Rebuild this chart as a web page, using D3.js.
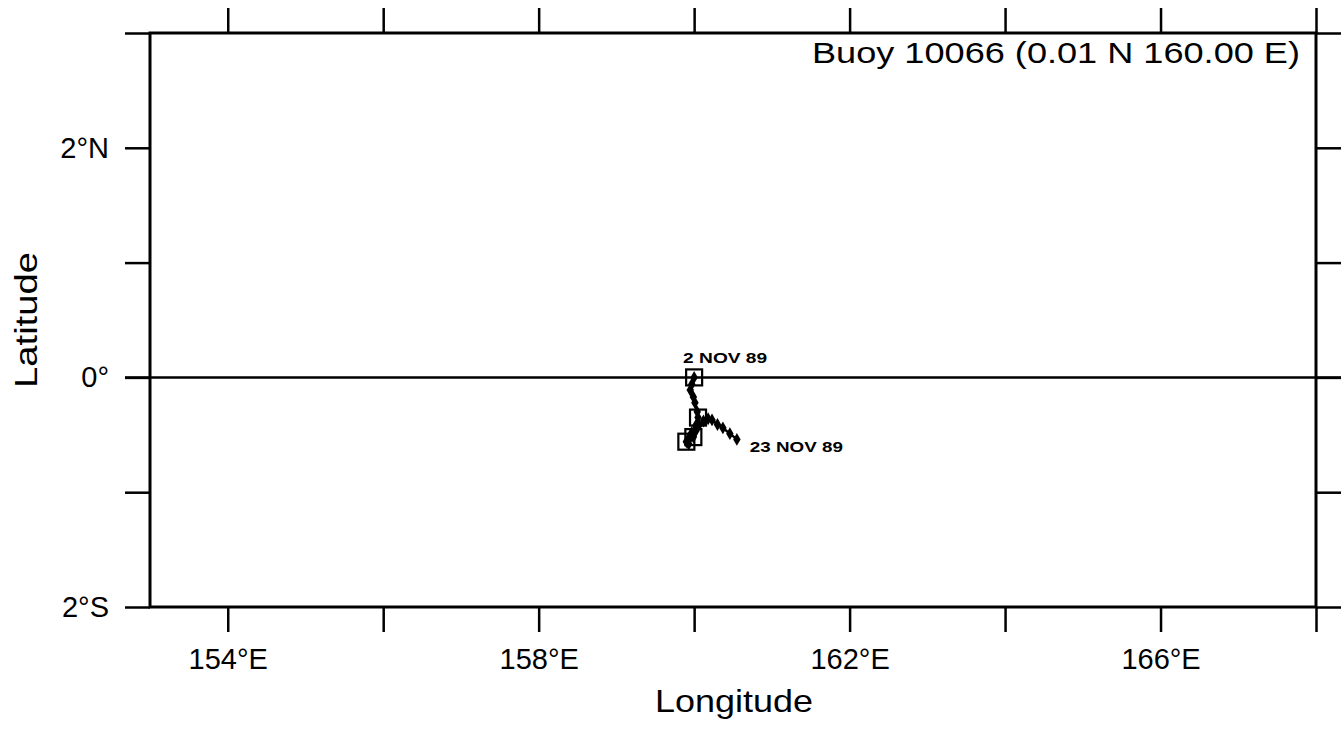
<!DOCTYPE html>
<html>
<head>
<meta charset="utf-8">
<script src="https://cdn.jsdelivr.net/npm/d3@7"></script>
<style>
html,body{margin:0;padding:0;background:#fff;}
svg text{font-family:"Liberation Sans",Arial,sans-serif;fill:#000;}
</style>
</head>
<body>
<svg id="chart" width="1344" height="729"></svg>
<script>
// ---- data ----
const title = "Buoy 10066 (0.01 N 160.00 E)";
const lonDomain = [153, 168];
const latDomain = [-2, 3];
const lonTicks = [154, 156, 158, 160, 162, 164, 166, 168];
const lonLabels = {154: "154°E", 158: "158°E", 162: "162°E", 166: "166°E"};
const latTicks = [-2, -1, 0, 1, 2, 3];
const latLabels = {2: "2°N", 0: "0°", "-2": "2°S"};
const dates = ["2 NOV 89","3 NOV 89","4 NOV 89","5 NOV 89","6 NOV 89","7 NOV 89","8 NOV 89",
  "9 NOV 89","10 NOV 89","11 NOV 89","12 NOV 89","13 NOV 89","14 NOV 89","15 NOV 89","16 NOV 89",
  "17 NOV 89","18 NOV 89","19 NOV 89","20 NOV 89","21 NOV 89","22 NOV 89","23 NOV 89"];
const lons = [160.00,159.97,159.95,159.99,160.01,160.04,160.05,160.02,159.97,159.93,159.90,
  159.93,159.99,160.02,160.06,160.12,160.18,160.23,160.30,160.37,160.46,160.55];
const lats = [0.00,-0.06,-0.11,-0.17,-0.22,-0.30,-0.35,-0.42,-0.48,-0.53,-0.56,
  -0.58,-0.52,-0.47,-0.42,-0.38,-0.36,-0.37,-0.41,-0.44,-0.49,-0.54];
const squareIdx = [0, 6, 10, 12];

// ---- layout ----
const svg = d3.select("#chart");
const x = d3.scaleLinear().domain(lonDomain).range([150, 1316]);
const y = d3.scaleLinear().domain(latDomain).range([607, 33]);
const tickLen = 25;

// equator line
svg.append("line")
  .attr("x1", x(lonDomain[0]) - tickLen).attr("x2", x(lonDomain[1]) + tickLen)
  .attr("y1", y(0)).attr("y2", y(0))
  .attr("stroke", "#000").attr("stroke-width", 2.5);

// axes
function styleAxis(g) {
  g.select(".domain").remove();
  g.selectAll(".tick line").attr("stroke", "#000").attr("stroke-width", 2.5);
}
svg.append("g").attr("transform", `translate(0,${y(latDomain[0])})`)
  .call(d3.axisBottom(x).tickValues(lonTicks).tickSize(tickLen).tickPadding(16)
    .tickFormat(d => lonLabels[d] || ""))
  .call(styleAxis)
  .call(g => g.selectAll(".tick text").attr("font-size", 29).attr("font-family", "Liberation Sans, Arial, sans-serif").attr("fill", "#000"));
svg.append("g").attr("transform", `translate(0,${y(latDomain[1])})`)
  .call(d3.axisTop(x).tickValues(lonTicks).tickSize(tickLen).tickFormat(""))
  .call(styleAxis);
svg.append("g").attr("transform", `translate(${x(lonDomain[0])},0)`)
  .call(d3.axisLeft(y).tickValues(latTicks).tickSize(tickLen).tickPadding(16)
    .tickFormat(d => latLabels[d] || ""))
  .call(styleAxis)
  .call(g => g.selectAll(".tick text").attr("font-size", 29).attr("font-family", "Liberation Sans, Arial, sans-serif").attr("fill", "#000"));
svg.append("g").attr("transform", `translate(${x(lonDomain[1])},0)`)
  .call(d3.axisRight(y).tickValues(latTicks).tickSize(tickLen).tickFormat(""))
  .call(styleAxis);

// frame
svg.append("rect")
  .attr("x", x(lonDomain[0])).attr("y", y(latDomain[1]))
  .attr("width", x(lonDomain[1]) - x(lonDomain[0]))
  .attr("height", y(latDomain[0]) - y(latDomain[1]))
  .attr("fill", "none").attr("stroke", "#000").attr("stroke-width", 3);

// axis titles
svg.append("text").attr("x", (x(lonDomain[0]) + x(lonDomain[1])) / 2 + 1).attr("y", 712)
  .attr("text-anchor", "middle").attr("font-size", 32)
  .attr("textLength", 158).attr("lengthAdjust", "spacingAndGlyphs").text("Longitude");
svg.append("text").attr("transform", `translate(37,${y(0.5)}) rotate(-90)`)
  .attr("text-anchor", "middle").attr("font-size", 32)
  .attr("textLength", 136).attr("lengthAdjust", "spacingAndGlyphs").text("Latitude");

// title
svg.append("text").attr("x", 1300).attr("y", 63).attr("text-anchor", "end")
  .attr("font-size", 30).attr("textLength", 488).attr("lengthAdjust", "spacingAndGlyphs")
  .text(title);

// track
const pts = lons.map((lo, i) => [x(lo), y(lats[i])]);
svg.append("path").attr("d", d3.line()(pts))
  .attr("fill", "none").attr("stroke", "#000").attr("stroke-width", 2.5);
svg.append("g").selectAll("path.dm").data(pts).join("path")
  .attr("class", "dm")
  .attr("d", d3.symbol().type(d3.symbolDiamond).size(48))
  .attr("transform", d => `translate(${d[0]},${d[1]})`)
  .attr("fill", "#000");
svg.append("g").selectAll("rect.sq").data(squareIdx).join("rect")
  .attr("class", "sq")
  .attr("x", i => pts[i][0] - 8).attr("y", i => pts[i][1] - 8)
  .attr("width", 16).attr("height", 16)
  .attr("fill", "none").attr("stroke", "#000").attr("stroke-width", 2.2);

// date labels
const first = 0, last = dates.length - 1;
svg.append("text").attr("x", pts[first][0] + 31).attr("y", pts[first][1] - 14)
  .attr("text-anchor", "middle").attr("font-size", 15).attr("font-weight", "bold")
  .attr("textLength", 84).attr("lengthAdjust", "spacingAndGlyphs").text(dates[first]);
svg.append("text").attr("x", pts[last][0] + 13).attr("y", pts[last][1] + 13)
  .attr("text-anchor", "start").attr("font-size", 15).attr("font-weight", "bold")
  .attr("textLength", 93).attr("lengthAdjust", "spacingAndGlyphs").text(dates[last]);
</script>
</body>
</html>
